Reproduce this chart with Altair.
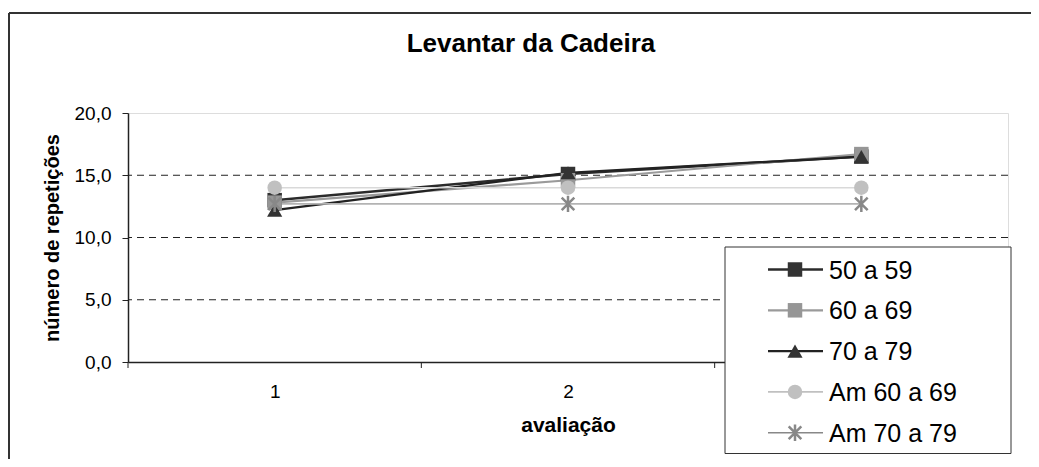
import altair as alt
import pandas as pd

# ---- data ----
avaliacao = [1, 2, 3]
series = ["50 a 59", "60 a 69", "70 a 79", "Am 60 a 69", "Am 70 a 79"]
s_50_59 = [13.0, 15.1, 16.5]
s_60_69 = [12.8, 14.6, 16.7]
s_70_79 = [12.2, 15.2, 16.5]
s_am_60_69 = [14.0, 14.0, 14.0]
s_am_70_79 = [12.7, 12.7, 12.7]
y_ticks = [0, 5, 10, 15, 20]
grid_values = [5, 10, 15]
x_bounds = [0.5, 1.5, 2.5, 3.5]
chart_title = "Levantar da Cadeira"
x_title = "avaliação"
y_title = "número de repetições"

# ---- styles ----
FONT = "Liberation Sans"
STAR = "M-1,-1L1,1M-1,1L1,-1M0,-1.3L0,1.3"
line_colors = ["#2b2b2b", "#9a9a9a", "#222222", "#d9d9d9", "#b3b3b3"]
marker_colors = ["#333333", "#969696", "#333333", "#c0c0c0", "#888888"]
line_widths = [2.5, 2.2, 2.2, 1.6, 1.6]
shapes = ["square", "square", "triangle-up", "circle", STAR]
sizes = [210, 210, 230, 210, 160]

W, H = 880, 249
PAD = {"left": 120, "top": 105, "right": 23, "bottom": 97}

values = [s_50_59, s_60_69, s_70_79, s_am_60_69, s_am_70_79]
rows = []
for name, vals in zip(series, values):
    for a, v in zip(avaliacao, vals):
        rows.append({"serie": name, "avaliacao": a, "valor": v})
df = pd.DataFrame(rows)

xscale = alt.Scale(domain=[0.5, 3.5], nice=False, zero=False)
yscale = alt.Scale(domain=[0, 20], nice=False)
xaxis = alt.Axis(
    title=x_title, values=avaliacao, format="d", ticks=False, grid=False,
    labelPadding=20, labelFontSize=19, labelFont=FONT, labelColor="black",
    titleFont=FONT, titleFontSize=21, titleFontWeight="bold", titleColor="black",
    titlePadding=13, domainColor="#222222", domainWidth=1.5, labelFlush=False,
)
yaxis = alt.Axis(
    title=y_title, values=y_ticks, grid=False,
    labelExpr="replace(format(datum.value, '.1f'), '.', ',')",
    tickSize=6, tickColor="#222222", labelPadding=11, labelFontSize=19,
    labelFont=FONT, labelColor="black", titleFont=FONT, titleFontSize=20,
    titleFontWeight="bold", titleColor="black", titlePadding=12,
    domainColor="#222222", domainWidth=1.5,
)

one = pd.DataFrame({"k": [0]})

# outer chart frame (only top and left edges fall inside the picture)
frame_top = alt.Chart(one).mark_rule(color="#333333", strokeWidth=2).encode(
    x=alt.value(-119), x2=alt.value(W + PAD["right"] + 5), y=alt.value(-100)
)
frame_left = alt.Chart(one).mark_rule(color="#333333", strokeWidth=2).encode(
    x=alt.value(-119), y=alt.value(-100), y2=alt.value(H + PAD["bottom"] + 5)
)

grid = alt.Chart(pd.DataFrame({"g": grid_values})).mark_rule(
    color="#222222", strokeWidth=1, strokeDash=[7, 5]
).encode(y=alt.Y("g:Q", scale=yscale, axis=yaxis))

layers = [frame_top, frame_left, grid]
for i, name in enumerate(series):
    base = alt.Chart(df).transform_filter(alt.datum.serie == name).encode(
        x=alt.X("avaliacao:Q", scale=xscale, axis=xaxis),
        y=alt.Y("valor:Q", scale=yscale, axis=yaxis),
    )
    layers.append(base.mark_line(color=line_colors[i], strokeWidth=line_widths[i]))
for i, name in enumerate(series):
    base = alt.Chart(df).transform_filter(alt.datum.serie == name).encode(
        x=alt.X("avaliacao:Q", scale=xscale, axis=xaxis),
        y=alt.Y("valor:Q", scale=yscale, axis=yaxis),
    )
    if shapes[i] == STAR:
        pt = base.mark_point(shape=STAR, filled=False, color=marker_colors[i],
                             strokeWidth=2.5, size=sizes[i], opacity=1)
    else:
        pt = base.mark_point(shape=shapes[i], filled=True, color=marker_colors[i],
                             size=sizes[i], opacity=1)
    layers.append(pt)

xticks = alt.Chart(pd.DataFrame({"b": x_bounds})).mark_rule(
    color="#222222", strokeWidth=1
).encode(x=alt.X("b:Q", scale=xscale, axis=xaxis), y=alt.value(H), y2=alt.value(H + 6))
layers.append(xticks)

# ---- legend (manual, to show line + marker) ----
LX0, LX1, LY0, LY1 = 597, 883, 134, 340.5
legend_box = alt.Chart(one).mark_rect(
    fill="white", stroke="#333333", strokeWidth=1
).encode(x=alt.value(LX0), x2=alt.value(LX1), y=alt.value(LY0), y2=alt.value(LY1))
layers.append(legend_box)

row_y0, row_dy = 156.5, 40.8
for i, name in enumerate(series):
    ry = row_y0 + i * row_dy
    d = pd.DataFrame({"serie": [name]})
    seg = alt.Chart(d).mark_rule(color=line_colors[i] if i < 3 else marker_colors[i],
                                 strokeWidth=line_widths[i]).encode(
        x=alt.value(640), x2=alt.value(695), y=alt.value(ry))
    if shapes[i] == STAR:
        mk = alt.Chart(d).mark_point(shape=STAR, filled=False, color=marker_colors[i],
                                     strokeWidth=2.5, size=sizes[i], opacity=1)
    else:
        mk = alt.Chart(d).mark_point(shape=shapes[i], filled=True, color=marker_colors[i],
                                     size=sizes[i], opacity=1)
    mk = mk.encode(x=alt.value(667), y=alt.value(ry))
    tx = alt.Chart(d).mark_text(
        align="left", baseline="middle", font=FONT, fontSize=25, color="black"
    ).encode(x=alt.value(701), y=alt.value(ry + 1), text="serie:N")
    layers += [seg, mk, tx]

title = alt.Chart(one).mark_text(
    text=chart_title, font=FONT, fontSize=26, fontWeight="bold", color="black",
    align="center", baseline="alphabetic"
).encode(x=alt.value(403), y=alt.value(-61))
layers.append(title)

chart = alt.layer(*layers).properties(
    width=W, height=H,
    autosize=alt.AutoSizeParams(type="none"),
    padding=PAD,
).configure_view(stroke="#888888", strokeWidth=2).configure(background="white")

chart.save("out.html", embed_options={"renderer": "svg", "actions": False})
